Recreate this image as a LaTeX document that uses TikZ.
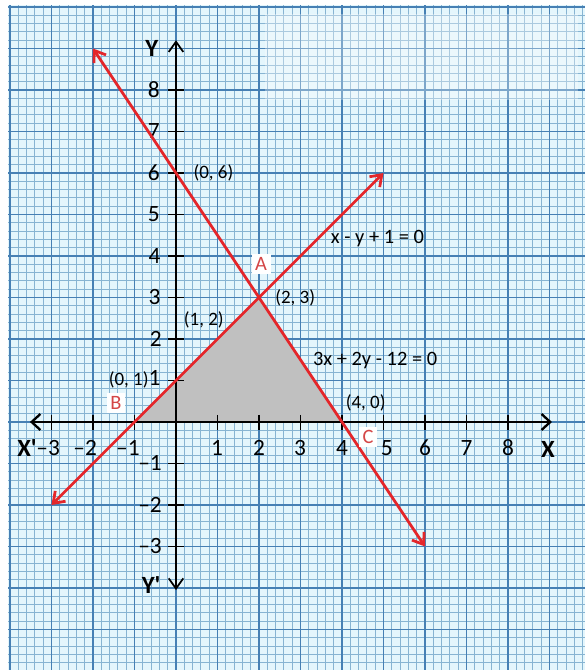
\documentclass[tikz,border=0pt]{standalone}
\usepackage{fontspec}
\setmainfont{Carlito}
\usetikzlibrary{arrows.meta}

\definecolor{paper}{RGB}{228,246,252}
\definecolor{minorgrid}{RGB}{135,180,210}
\definecolor{majorgrid}{RGB}{70,128,180}
\definecolor{linered}{RGB}{228,38,42}
\definecolor{labelred}{RGB}{212,70,70}
\definecolor{regiongray}{RGB}{192,192,192}

\begin{document}
\begin{tikzpicture}[x=1cm, y=1cm,
    minorline/.style={minorgrid, line width=0.75pt},
    majorline/.style={majorgrid, line width=1.1pt},
    xaxisline/.style={black, line width=1.6pt, {Straight Barb[length=6pt,width=11pt]}-{Straight Barb[length=6pt,width=11pt]}},
    yaxisline/.style={black, line width=1.2pt, {Straight Barb[length=7pt,width=10pt]}-{Straight Barb[length=7pt,width=10pt]}},
    redline/.style={linered, line width=1.9pt, {Straight Barb[length=7pt,width=10pt]}-{Straight Barb[length=7pt,width=10pt]}},
    tickmark/.style={black, line width=1.2pt},
    ticklbl/.style={font=\fontsize{16}{18}\selectfont, anchor=base},
    yticklbl/.style={font=\fontsize{16}{18}\selectfont, anchor=base east},
    axislbl/.style={font=\fontsize{17}{19}\selectfont\bfseries},
    ptlbl/.style={font=\fontsize{13}{15}\selectfont, anchor=west, inner sep=1pt},
    eqlbl/.style={font=\fontsize{14}{16}\selectfont, anchor=west, inner sep=1pt},
    vtxlbl/.style={font=\fontsize{14}{16}\selectfont, text=labelred, fill=white, inner sep=2.5pt}]

    \useasboundingbox (-4.241,-5.976) rectangle (9.855,10.169);
    \fill[white] (-4.241,-5.976) rectangle (9.855,10.169);

    % graph paper
    \fill[paper] (-4.048,-5.976) rectangle (9.855,10.05);
    \draw[minorline, step=0.2] (-4.048,-5.976) grid (9.855,10.05);
    \draw[majorline, step=1] (-4.048,-5.976) grid (9.855,10.05);
    \fill[white, opacity=0.3] (2.14,7.76) rectangle (9.69,9.83);

    \coordinate (A) at (2,3);
    \coordinate (B) at (-1,0);
    \coordinate (C) at (4,0);

    % feasible region
    \fill[regiongray] (B) -- (A) -- (C) -- cycle;

    % axes
    \coordinate (xleft) at (-3.52,0);
    \coordinate (xright) at (9.06,0);
    \coordinate (ytop) at (0,9.2);
    \coordinate (ybot) at (0,-4.05);
    \draw[xaxisline] (xleft) -- (xright);
    \draw[yaxisline] (ybot) -- (ytop);

    \draw[tickmark] (-3,0.17) -- (-3,-0.19);
    \draw[tickmark] (-2,0.17) -- (-2,-0.19);
    \draw[tickmark] (-1,0.17) -- (-1,-0.19);
    \draw[tickmark] (1,0.17) -- (1,-0.19);
    \draw[tickmark] (2,0.17) -- (2,-0.19);
    \draw[tickmark] (3,0.17) -- (3,-0.19);
    \draw[tickmark] (4,0.17) -- (4,-0.19);
    \draw[tickmark] (5,0.17) -- (5,-0.19);
    \draw[tickmark] (6,0.17) -- (6,-0.19);
    \draw[tickmark] (7,0.17) -- (7,-0.19);
    \draw[tickmark] (8,0.17) -- (8,-0.19);

    \draw[tickmark] (-0.2,8) -- (0.2,8);
    \draw[tickmark] (-0.2,7) -- (0.2,7);
    \draw[tickmark] (-0.2,6) -- (0.2,6);
    \draw[tickmark] (-0.2,5) -- (0.2,5);
    \draw[tickmark] (-0.2,4) -- (0.2,4);
    \draw[tickmark] (-0.2,3) -- (0.2,3);
    \draw[tickmark] (-0.2,2) -- (0.2,2);
    \draw[tickmark] (-0.2,1) -- (0.2,1);
    \draw[tickmark] (-0.2,-1) -- (0.2,-1);
    \draw[tickmark] (-0.2,-2) -- (0.2,-2);
    \draw[tickmark] (-0.2,-3) -- (0.2,-3);

    \node[axislbl, anchor=base] (xneg) at (-3.59,-0.84) {X\textquotesingle};
    \node[ticklbl] (xm3) at (-3.08,-0.81) {\textendash3};
    \node[ticklbl] (xm2) at (-2.19,-0.81) {\textendash2};
    \node[ticklbl] (xm1) at (-1.16,-0.81) {\textendash1};
    \node[ticklbl] (x1) at (0.99,-0.81) {1};
    \node[ticklbl] (x2) at (2,-0.81) {2};
    \node[ticklbl] (x3) at (2.99,-0.81) {3};
    \node[ticklbl] (x4) at (4,-0.81) {4};
    \node[ticklbl] (x5) at (5.08,-0.81) {5};
    \node[ticklbl] (x6) at (6,-0.81) {6};
    \node[ticklbl] (x7) at (7,-0.81) {7};
    \node[ticklbl] (x8) at (8,-0.81) {8};
    \node[axislbl, anchor=base] (xpos) at (8.96,-0.86) {X};

    \node[yticklbl] (y8) at (-0.27,7.82) {8};
    \node[yticklbl] (y7) at (-0.27,6.82) {7};
    \node[yticklbl] (y6) at (-0.27,5.82) {6};
    \node[yticklbl] (y5) at (-0.27,4.82) {5};
    \node[yticklbl] (y4) at (-0.25,3.82) {4};
    \node[yticklbl] (y3) at (-0.25,2.82) {3};
    \node[yticklbl] (y2) at (-0.22,1.82) {2};
    \node[yticklbl] (y1) at (-0.25,0.87) {1};
    \node[yticklbl] (ym1) at (-0.22,-1.18) {\textendash1};
    \node[yticklbl] (ym2) at (-0.22,-2.18) {\textendash2};
    \node[yticklbl] (ym3) at (-0.22,-3.18) {\textendash3};
    \node[axislbl] (ypos) at (-0.58,9.0) {Y};
    \node[axislbl] (yneg) at (-0.6,-3.93) {Y\textquotesingle};

    % constraint lines
    \coordinate (lineonetop) at (-2,9);
    \coordinate (lineonebot) at (6,-3);
    \coordinate (linetwobot) at (-3,-2);
    \coordinate (linetwotop) at (5,6);
    \draw[redline] (lineonetop) -- (lineonebot);
    \draw[redline] (linetwobot) -- (linetwotop);

    \node[ptlbl] (p06) at (0.38,6) {(0, 6)};
    \node[ptlbl] (p23) at (2.35,3) {(2, 3)};
    \node[ptlbl] (p12) at (0.15,2.46) {(1, 2)};
    \node[ptlbl] (p01) at (-1.66,1.01) {(0, 1)};
    \node[ptlbl] (p40) at (4.05,0.46) {(4, 0)};
    \node[eqlbl] (eqtwo) at (3.69,4.43) {x - y + 1 = 0};
    \node[eqlbl] (eqone) at (3.26,1.49) {3x + 2y - 12 = 0};

    \node[vtxlbl] (lblA) at (2.05,3.81) {A};
    \node[vtxlbl] (lblB) at (-1.45,0.46) {B};
    \node[vtxlbl] (lblC) at (4.63,-0.36) {C};
\end{tikzpicture}
\end{document}
